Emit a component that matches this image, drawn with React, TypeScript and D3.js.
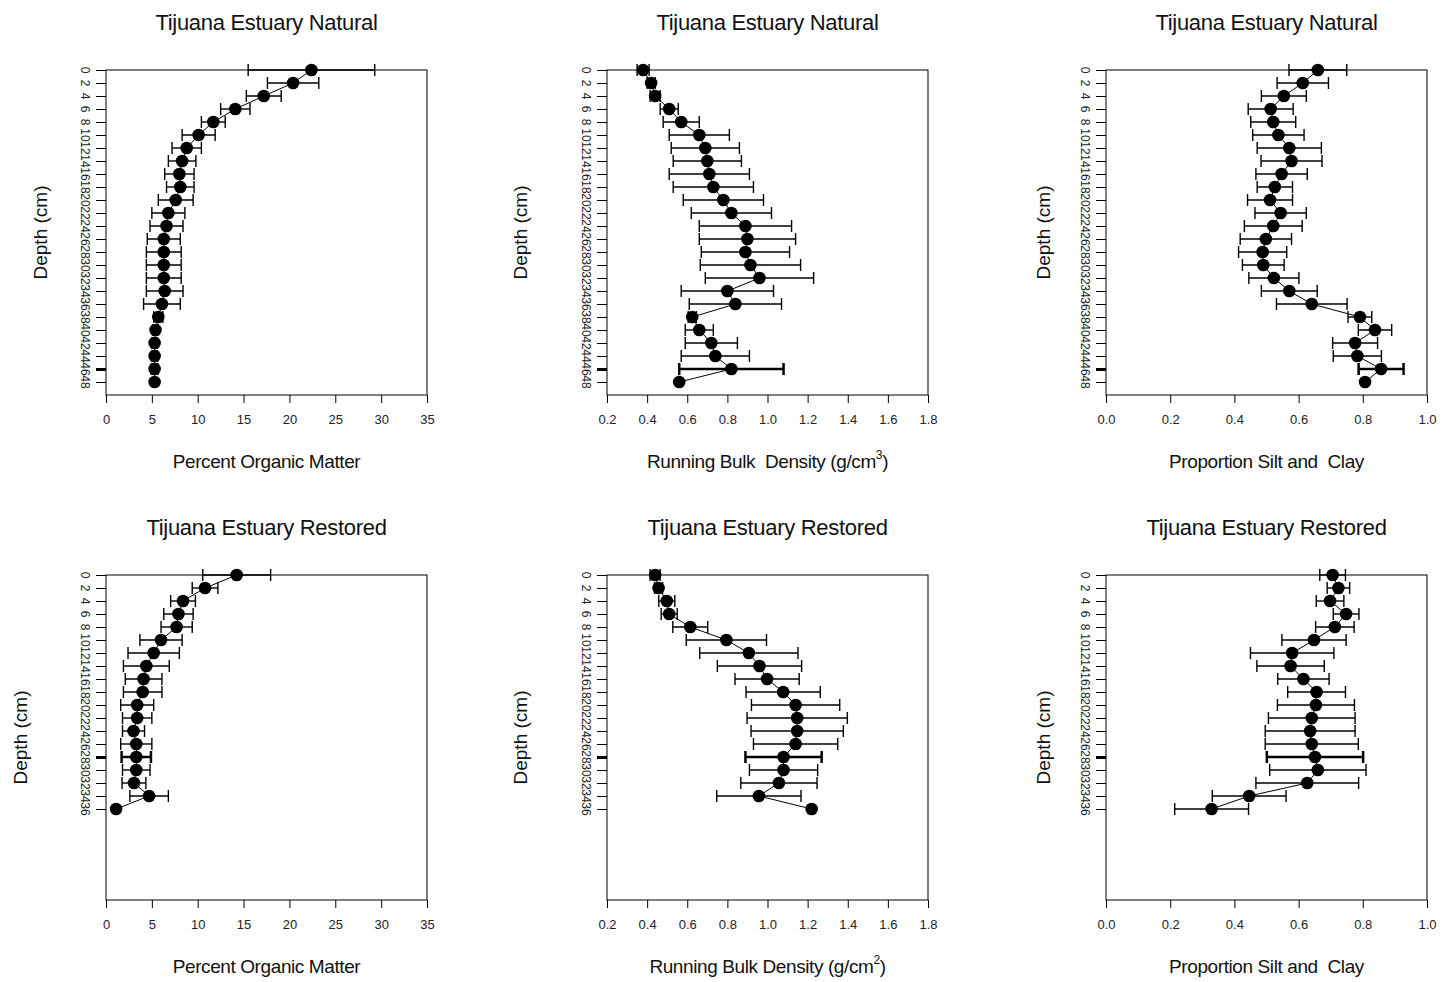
import React, { useEffect, useRef } from 'react';
import * as d3 from 'd3';

// depth categories (cm)
const depthNatural = [0, 2, 4, 6, 8, 10, 12, 14, 16, 18, 20, 22, 24, 26, 28, 30, 32, 34, 36, 38, 40, 42, 44, 46, 48];
const depthRestored = [0, 2, 4, 6, 8, 10, 12, 14, 16, 18, 20, 22, 24, 26, 28, 30, 32, 34, 36];

// Natural site
const omNatural = [22.4, 20.4, 17.2, 14.1, 11.7, 10.1, 8.8, 8.3, 8.0, 8.1, 7.6, 6.8, 6.6, 6.3, 6.3, 6.3, 6.3, 6.4, 6.1, 5.7, 5.4, 5.3, 5.3, 5.3, 5.3];
const omNaturalErr = [6.9, 2.8, 1.9, 1.6, 1.3, 1.8, 1.6, 1.5, 1.6, 1.5, 1.9, 1.8, 1.8, 1.8, 1.9, 1.9, 1.9, 2.0, 2.0, 0.5, 0.3, 0.3, 0.3, 0.3, 0];
const bdNatural = [0.38, 0.42, 0.44, 0.51, 0.57, 0.66, 0.69, 0.70, 0.71, 0.73, 0.78, 0.82, 0.89, 0.90, 0.89, 0.915, 0.96, 0.80, 0.84, 0.625, 0.66, 0.72, 0.74, 0.82, 0.56];
const bdNaturalErr = [0.03, 0.02, 0.025, 0.045, 0.09, 0.15, 0.17, 0.17, 0.2, 0.2, 0.2, 0.2, 0.23, 0.24, 0.22, 0.25, 0.27, 0.23, 0.23, 0.02, 0.07, 0.13, 0.17, 0.26, 0];
const scNatural = [0.66, 0.613, 0.554, 0.513, 0.521, 0.537, 0.571, 0.578, 0.547, 0.526, 0.511, 0.544, 0.521, 0.498, 0.488, 0.49, 0.523, 0.571, 0.641, 0.791, 0.838, 0.776, 0.783, 0.857, 0.807];
const scNaturalErr = [0.09, 0.08, 0.07, 0.07, 0.07, 0.08, 0.1, 0.095, 0.08, 0.055, 0.07, 0.08, 0.09, 0.08, 0.075, 0.065, 0.078, 0.087, 0.11, 0.037, 0.052, 0.07, 0.075, 0.07, 0];

// Restored site
const omRestored = [14.25, 10.8, 8.4, 7.9, 7.7, 6.0, 5.2, 4.4, 4.1, 4.0, 3.4, 3.4, 3.0, 3.3, 3.3, 3.3, 3.05, 4.7, 1.1];
const omRestoredErr = [3.7, 1.4, 1.35, 1.6, 1.7, 2.3, 2.8, 2.5, 2.0, 2.1, 1.8, 1.6, 1.2, 1.7, 1.6, 1.5, 1.3, 2.1, 0];
const bdRestored = [0.44, 0.457, 0.498, 0.51, 0.615, 0.795, 0.907, 0.96, 0.998, 1.078, 1.14, 1.148, 1.148, 1.14, 1.08, 1.08, 1.057, 0.957, 1.22];
const bdRestoredErr = [0.025, 0.02, 0.04, 0.04, 0.087, 0.2, 0.245, 0.21, 0.16, 0.185, 0.22, 0.25, 0.23, 0.21, 0.19, 0.17, 0.19, 0.21, 0];
const scRestored = [0.706, 0.724, 0.698, 0.748, 0.713, 0.648, 0.58, 0.575, 0.615, 0.656, 0.654, 0.641, 0.636, 0.641, 0.651, 0.66, 0.627, 0.446, 0.329];
const scRestoredErr = [0.04, 0.035, 0.043, 0.04, 0.06, 0.1, 0.13, 0.105, 0.08, 0.09, 0.12, 0.135, 0.14, 0.145, 0.15, 0.15, 0.16, 0.115, 0.115];

// axis ticks
const omTicks = [0, 5, 10, 15, 20, 25, 30, 35];
const bdTicks = [0.2, 0.4, 0.6, 0.8, 1.0, 1.2, 1.4, 1.6, 1.8];
const scTicks = [0.0, 0.2, 0.4, 0.6, 0.8, 1.0];

const titleNatural = 'Tijuana Estuary Natural';
const titleRestored = 'Tijuana Estuary Restored';

const FONT = '"Liberation Sans", Arial, sans-serif';

type Panel = {
  col: number;
  row: number;
  title: string;
  xLabel: string;
  sup?: string;
  ticks: number[];
  fmt: (v: number) => string;
  depths: number[];
  values: number[];
  errors: number[];
  boldDepth: number;
};

const fmt0 = d3.format('d');
const fmt1 = d3.format('.1f');

const panels: Panel[] = [
  { col: 0, row: 0, title: titleNatural, xLabel: 'Percent Organic Matter', ticks: omTicks, fmt: fmt0, depths: depthNatural, values: omNatural, errors: omNaturalErr, boldDepth: 46 },
  { col: 1, row: 0, title: titleNatural, xLabel: 'Running Bulk  Density (g/cm', sup: '3', ticks: bdTicks, fmt: fmt1, depths: depthNatural, values: bdNatural, errors: bdNaturalErr, boldDepth: 46 },
  { col: 2, row: 0, title: titleNatural, xLabel: 'Proportion Silt and  Clay', ticks: scTicks, fmt: fmt1, depths: depthNatural, values: scNatural, errors: scNaturalErr, boldDepth: 46 },
  { col: 0, row: 1, title: titleRestored, xLabel: 'Percent Organic Matter', ticks: omTicks, fmt: fmt0, depths: depthRestored, values: omRestored, errors: omRestoredErr, boldDepth: 28 },
  { col: 1, row: 1, title: titleRestored, xLabel: 'Running Bulk Density (g/cm', sup: '2', ticks: bdTicks, fmt: fmt1, depths: depthRestored, values: bdRestored, errors: bdRestoredErr, boldDepth: 28 },
  { col: 2, row: 1, title: titleRestored, xLabel: 'Proportion Silt and  Clay', ticks: scTicks, fmt: fmt1, depths: depthRestored, values: scRestored, errors: scRestoredErr, boldDepth: 28 },
];

const colLeft = [106, 607, 1106];
const rowTop = [70, 575];
const plotW = 321;
const plotH = 325;
const yLabelOffset = [[66, 87, 63], [86, 87, 63]];

export default function App() {
  const svgRef = useRef<SVGSVGElement>(null);

  useEffect(() => {
    const svg = d3.select(svgRef.current);
    svg.selectAll('*').remove();

    panels.forEach((p) => {
      const x0 = colLeft[p.col];
      const y0 = rowTop[p.row];
      const x = d3.scaleLinear().domain([p.ticks[0], p.ticks[p.ticks.length - 1]]).range([x0, x0 + plotW]);
      const y = d3.scaleLinear().domain([0, 50]).range([y0, y0 + plotH]);
      const g = svg.append('g').attr('font-family', FONT).attr('fill', '#111');

      // frame
      g.append('rect')
        .attr('x', x0).attr('y', y0).attr('width', plotW).attr('height', plotH)
        .attr('fill', 'none').attr('stroke', '#000').attr('stroke-width', 1);

      // title
      g.append('text')
        .attr('x', x0 + plotW / 2).attr('y', y0 - 40)
        .attr('text-anchor', 'middle').attr('font-size', 22)
        .attr('letter-spacing', -0.3)
        .text(p.title);

      // x axis
      const xAxis = d3.axisBottom(x).tickValues(p.ticks).tickFormat((d) => p.fmt(d as number)).tickSize(8).tickPadding(12);
      const xg = g.append('g').attr('transform', `translate(0,${y0 + plotH})`).call(xAxis);
      xg.select('.domain').remove();
      xg.selectAll('line').attr('stroke', '#000');
      xg.selectAll('text').attr('font-size', 13).attr('font-family', FONT).attr('fill', '#222');

      // x label
      const xl = g.append('text')
        .attr('x', x0 + plotW / 2).attr('y', y0 + plotH + 73)
        .attr('text-anchor', 'middle').attr('font-size', 19)
        .attr('letter-spacing', -0.4)
        .style('white-space', 'pre')
        .text(p.xLabel);
      if (p.sup) {
        xl.append('tspan').attr('font-size', 12).attr('dy', -9).text(p.sup);
        xl.append('tspan').attr('dy', 9).text(')');
      }

      // y axis
      const yAxis = d3.axisLeft(y).tickValues(p.depths).tickFormat(() => '').tickSize(10);
      const yg = g.append('g').attr('transform', `translate(${x0},0)`).call(yAxis);
      yg.select('.domain').remove();
      yg.selectAll('line').attr('stroke', '#000');
      yg.selectAll<SVGGElement, number>('.tick').select('line')
        .attr('stroke-width', (d) => (d === p.boldDepth ? 3 : 1));

      // rotated depth labels
      g.selectAll(null)
        .data(p.depths)
        .enter()
        .append('text')
        .attr('transform', (d) => `translate(${x0 - 21},${y(d)}) rotate(90)`)
        .attr('text-anchor', 'middle')
        .attr('dominant-baseline', 'central')
        .attr('font-size', 12)
        .attr('fill', '#222')
        .text((d) => fmt0(d));

      // y label
      g.append('text')
        .attr('transform', `translate(${x0 - yLabelOffset[p.row][p.col]},${y0 + plotH / 2}) rotate(-90)`)
        .attr('text-anchor', 'middle')
        .attr('dominant-baseline', 'central')
        .attr('font-size', 19)
        .text('Depth (cm)');

      const rows = p.depths.map((d, i) => ({ d, v: p.values[i], e: p.errors[i] }));

      // connecting line
      g.append('path')
        .datum(rows)
        .attr('fill', 'none')
        .attr('stroke', '#000')
        .attr('stroke-width', 1)
        .attr('d', d3.line<{ d: number; v: number }>().x((r) => x(r.v)).y((r) => y(r.d)));

      // error bars
      const eb = g.selectAll(null)
        .data(rows.filter((r) => r.e > 0))
        .enter()
        .append('g')
        .attr('stroke', '#000')
        .attr('stroke-width', (r) => (r.d === p.boldDepth ? 2.5 : 1.4));
      eb.append('line')
        .attr('x1', (r) => x(r.v - r.e)).attr('x2', (r) => x(r.v + r.e))
        .attr('y1', (r) => y(r.d)).attr('y2', (r) => y(r.d));
      eb.append('line')
        .attr('x1', (r) => x(r.v - r.e)).attr('x2', (r) => x(r.v - r.e))
        .attr('y1', (r) => y(r.d) - 6).attr('y2', (r) => y(r.d) + 6);
      eb.append('line')
        .attr('x1', (r) => x(r.v + r.e)).attr('x2', (r) => x(r.v + r.e))
        .attr('y1', (r) => y(r.d) - 6).attr('y2', (r) => y(r.d) + 6);

      // points
      g.selectAll(null)
        .data(rows)
        .enter()
        .append('circle')
        .attr('cx', (r) => x(r.v))
        .attr('cy', (r) => y(r.d))
        .attr('r', 6.3)
        .attr('fill', '#000');
    });
  }, []);

  return (
    <svg
      ref={svgRef}
      width={1443}
      height={982}
      style={{ position: 'absolute', left: 0, top: 0, background: '#fff' }}
    />
  );
}
